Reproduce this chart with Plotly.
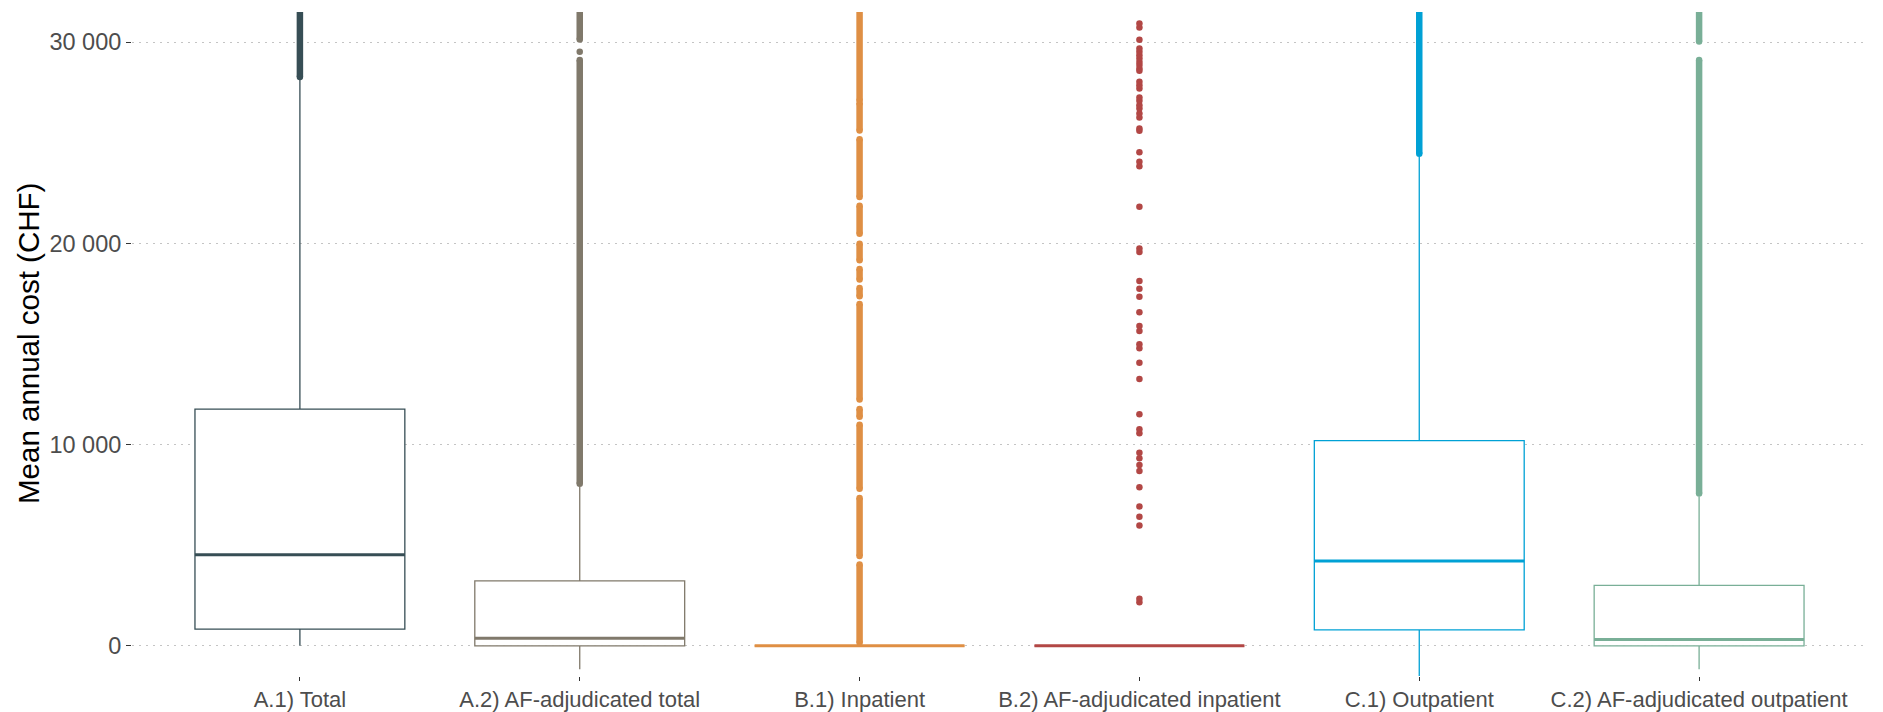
import plotly.graph_objects as go

# Cost categories
categories = [
    "A.1) Total",
    "A.2) AF-adjudicated total",
    "B.1) Inpatient",
    "B.2) AF-adjudicated inpatient",
    "C.1) Outpatient",
    "C.2) AF-adjudicated outpatient",
]

# Box statistics (CHF)
q1 = [830, 0, 0, 0, 795, 0]
median = [4520, 380, 0, 0, 4210, 315]
q3 = [11760, 3230, 0, 0, 10200, 3000]
lower_fence = [0, -1160, 0, 0, -1800, -1160]
upper_fence = [28120, 7910, 0, 0, 24300, 7420]

# Outliers that form continuous runs (first, last value of each run)
outlier_runs = [
    [(28270, 31800)],
    [(8060, 29120), (30130, 31800)],
    [(150, 4040), (4460, 7350), (7810, 10990), (11380, 11770), (12240, 16990),
     (17370, 17780), (18200, 18730), (19160, 19980), (20480, 21870),
     (22300, 25180), (25610, 26970), (27100, 31800)],
    [],
    [(24450, 31800)],
    [(7570, 29120), (30030, 31800)],
]

# Individual outliers
outlier_points = [
    [],
    [29520],
    [],
    [2170, 2335, 5975, 6420, 6920, 7880, 8690, 8990, 9325, 9600, 10565, 10765,
     11510, 13260, 14070, 14785, 14985, 15645, 15895, 16575, 17350, 17750,
     18130, 19570, 19750, 21820, 23840, 24055, 24535, 25595, 25715, 26260,
     26460, 26705, 26870, 27085, 27250, 27700, 27860, 28030, 28575, 28690,
     28860, 29020, 29190, 29355, 29520, 29690, 30115, 30730, 30930],
    [],
    [],
]

y_tickvals = [0, 10000, 20000, 30000]
y_ticktext = ["0", "10\u00a0000", "20\u00a0000", "30\u00a0000"]

colors = ["#374E55", "#80796B", "#DF8F44", "#B24745", "#00A1D5", "#79AF97"]

BOX_WIDTH = 0.75
POINT_SIZE = 6.5
FONT = "Liberation Sans, Arial, sans-serif"
X_TICK_SIZE = 22
Y_TICK_SIZE = 23.5

fig = go.Figure()

for i, name in enumerate(categories):
    xpos = i + 1
    col = colors[i]
    fig.add_trace(go.Box(
        x=[xpos], q1=[q1[i]], median=[median[i]], q3=[q3[i]],
        lowerfence=[lower_fence[i]], upperfence=[upper_fence[i]],
        boxpoints=False, width=BOX_WIDTH, whiskerwidth=0,
        line=dict(color=col, width=1.3), fillcolor="white",
        name=name, showlegend=False, hoverinfo="skip",
    ))
    # thicker median bar
    fig.add_trace(go.Scatter(
        x=[xpos - BOX_WIDTH / 2, xpos + BOX_WIDTH / 2], y=[median[i], median[i]],
        mode="lines", line=dict(color=col, width=3),
        showlegend=False, hoverinfo="skip",
    ))
    # dense outlier runs
    rx, ry = [], []
    for lo, hi in outlier_runs[i]:
        rx += [xpos, xpos, None]
        ry += [lo, hi, None]
    if rx:
        fig.add_trace(go.Scatter(
            x=rx, y=ry, mode="lines+markers",
            line=dict(color=col, width=POINT_SIZE),
            marker=dict(color=col, size=POINT_SIZE),
            showlegend=False, hoverinfo="skip",
        ))
    # single outliers
    if outlier_points[i]:
        fig.add_trace(go.Scatter(
            x=[xpos] * len(outlier_points[i]), y=outlier_points[i],
            mode="markers", marker=dict(color=col, size=POINT_SIZE),
            showlegend=False, hoverinfo="skip",
        ))

fig.update_layout(
    width=1883, height=712,
    margin=dict(l=132, r=16, t=12, b=36, autoexpand=False),
    paper_bgcolor="white", plot_bgcolor="white",
    font=dict(family=FONT, color="#4D4D4D", size=X_TICK_SIZE),
    showlegend=False,
    xaxis=dict(
        range=[0.4, 6.6], tickvals=list(range(1, len(categories) + 1)),
        ticktext=categories, showgrid=False, zeroline=False, showline=False,
        ticks="outside", ticklen=4, tickwidth=1, tickcolor="#333333",
        tickfont=dict(size=X_TICK_SIZE, color="#4D4D4D", family=FONT),
        fixedrange=True,
    ),
    yaxis=dict(
        range=[-1500, 31500], tickvals=y_tickvals, ticktext=y_ticktext,
        showgrid=True, gridcolor="#C4C4C4", gridwidth=1.2, griddash="2px,5px",
        zeroline=False, showline=False,
        ticks="outside", ticklen=5, tickwidth=1, tickcolor="#333333",
        tickfont=dict(size=Y_TICK_SIZE, color="#4D4D4D", family=FONT),
        fixedrange=True,
    ),
    annotations=[dict(
        text="Mean annual cost (CHF)", textangle=-90,
        xref="paper", yref="paper", x=(28 - 132) / 1735, y=0.5,
        xanchor="center", yanchor="middle", showarrow=False,
        font=dict(size=29.5, color="black", family=FONT),
    )],
)

fig.write_html("out.html")
